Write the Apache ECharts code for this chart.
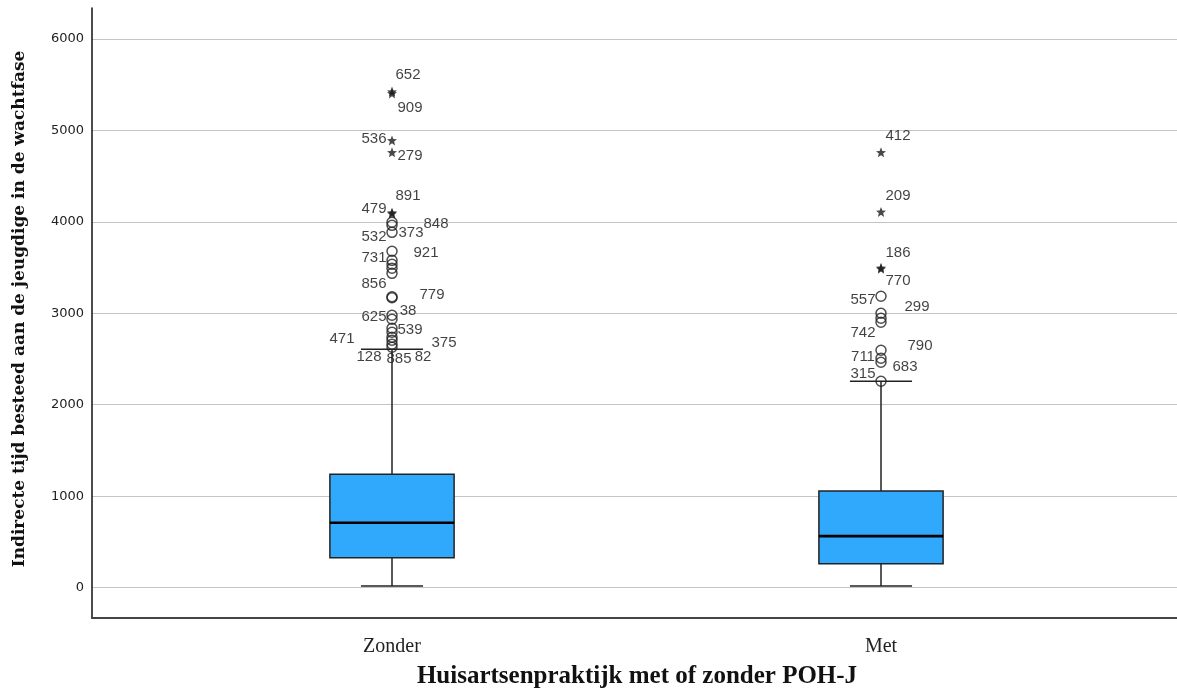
<!DOCTYPE html>
<html>
<head>
<meta charset="utf-8">
<script src="https://cdn.jsdelivr.net/npm/echarts@6/dist/echarts.min.js"></script>
<style>
html,body{margin:0;padding:0;background:#fff;}
#chart{width:1177px;height:695px;}
</style>
</head>
<body>
<div id="chart"></div>
<script>
// ---------- data ----------
const categories = ['Zonder', 'Met'];
// [lower whisker, Q1, median, Q3, upper whisker]
const boxStats = [
  [16, 326, 708, 1240, 2607],
  [16, 260, 563, 1055, 2257]
];
const yTicks = [0, 1000, 2000, 3000, 4000, 5000, 6000];

// extreme outliers (stars)
const zonderExtremes   = [5425, 5405, 4891, 4760, 4100, 4090];
const zonderExtremeIds = ['652', '909', '536', '279', '891', '479'];
const metExtremes      = [4760, 4109, 3497, 3487];
const metExtremeIds    = ['412', '209', '186', '770'];

// outliers (circles)
const zonderOutliers   = [3995, 3962, 3885, 3678, 3579, 3536, 3492, 3437, 3180, 3170,
                          2978, 2934, 2836, 2792, 2738, 2705, 2661, 2628];
const zonderOutlierIds = ['848', '532', '373', '921', '731', '', '', '', '856', '779',
                          '625', '38', '539', '471', '375', '128', '885', '82'];
const metOutliers      = [3186, 3000, 2945, 2902, 2596, 2508, 2464, 2257];
const metOutlierIds    = ['557', '299', '742', '', '790', '711', '683', '315'];

// ---------- label placement (pixel offsets of case labels) ----------
const zonderExtremeLabelOffsets = [[16,-17],[18,14],[-18,-2],[18,3],[16,-17],[-18,-5]];
const metExtremeLabelOffsets    = [[17,-17],[17,-16],[17,-15],[17,12]];
const zonderOutlierLabelOffsets = [[44,2],[-18,12],[19,0],[34,2],[-18,-2],[0,0],[0,0],[0,0],[-18,-13],[40,-3],
                                   [-18,2],[16,-8],[18,2],[-50,7],[52,6],[-23,17],[7,15],[31,10]];
const metOutlierLabelOffsets    = [[-18,4],[36,-6],[-18,15],[0,0],[39,-4],[-18,-1],[24,5],[-18,-7]];

// ---------- chart ----------
const yMin = -333, yMax = 6339;
const starPath = 'path://M0,-10 L2.6,-3.4 9.5,-3.1 4.1,1.2 5.9,8.1 0,4.2 -5.9,8.1 -4.1,1.2 -9.5,-3.1 -2.6,-3.4 Z';
const labelFont = { fontFamily: 'Liberation Sans', fontSize: 15, color: '#111' };

function pts(values, ids, offsets, catIndex) {
  return values.map((v, i) => ({
    value: [catIndex, v],
    label: { show: ids[i] !== '', formatter: ids[i], offset: offsets[i] }
  }));
}

function scatterSeries(data, isStar) {
  return {
    type: 'scatter',
    xAxisIndex: 1, yAxisIndex: 1,
    data: data,
    symbol: isStar ? starPath : 'circle',
    symbolSize: 10,
    itemStyle: isStar
      ? { color: '#1a1a1a', borderWidth: 0 }
      : { color: 'rgba(0,0,0,0)', borderColor: '#222', borderWidth: 1.5 },
    label: Object.assign({ position: 'inside', align: 'center', verticalAlign: 'middle' }, labelFont),
    emphasis: { disabled: true },
    z: 5
  };
}

const chart = echarts.init(document.getElementById('chart'), null, { renderer: 'canvas' });

const option = {
  animation: false,
  backgroundColor: '#fff',
  grid: [
    { left: 92, right: 0, top: 8, bottom: 77 },
    { left: 147.5, right: 51.5, top: 8, bottom: 77 }
  ],
  xAxis: [
    { gridIndex: 0, type: 'value', min: 0, max: 1,
      axisLine: { show: true, onZero: false, lineStyle: { color: '#444', width: 2 } },
      axisTick: { show: false }, axisLabel: { show: false }, splitLine: { show: false } },
    { gridIndex: 1, type: 'category', data: categories,
      axisLine: { show: false }, axisTick: { show: false }, splitLine: { show: false },
      axisLabel: { fontFamily: 'Liberation Serif', fontSize: 20, color: '#222', margin: 19 } }
  ],
  yAxis: [
    { gridIndex: 0, type: 'value', min: yMin, max: yMax,
      axisLine: { show: true, onZero: false, lineStyle: { color: '#111', width: 1.5 } },
      axisTick: { show: false, customValues: yTicks },
      axisLabel: { customValues: yTicks, formatter: v => String(v),
                   fontFamily: 'DejaVu Sans', fontSize: 13, color: '#222', margin: 8 },
      splitLine: { show: true, lineStyle: { color: '#c4c4c4', width: 1.2 } } },
    { gridIndex: 1, type: 'value', min: yMin, max: yMax, show: false }
  ],
  graphic: [
    { type: 'text', x: 20, y: 309, rotation: Math.PI / 2,
      style: { text: 'Indirecte tijd besteed aan de jeugdige in de wachtfase',
               font: 'bold 17px "DejaVu Serif"', fill: '#111', align: 'center', verticalAlign: 'middle' } },
    { type: 'text', x: 637, y: 677,
      style: { text: 'Huisartsenpraktijk met of zonder POH-J',
               font: 'bold 25px "Liberation Serif"', fill: '#111', align: 'center', verticalAlign: 'middle' } }
  ],
  series: [
    {
      type: 'custom',
      xAxisIndex: 1, yAxisIndex: 1,
      data: boxStats.map((s, i) => [i].concat(s)),
      encode: { x: 0, y: [1, 2, 3, 4, 5] },
      renderItem: function (params, api) {
        const c = api.value(0);
        const pLow = api.coord([c, api.value(1)]);
        const pQ1 = api.coord([c, api.value(2)]);
        const pMed = api.coord([c, api.value(3)]);
        const pQ3 = api.coord([c, api.value(4)]);
        const pHigh = api.coord([c, api.value(5)]);
        const band = api.size([1, 0])[0];
        const bw = band * 0.254;
        const cw = bw / 2;
        const x = pQ1[0];
        const lineStyle = { stroke: '#222', lineWidth: 1.5 };
        return {
          type: 'group',
          children: [
            { type: 'line', shape: { x1: x, y1: pQ3[1], x2: x, y2: pHigh[1] }, style: lineStyle },
            { type: 'line', shape: { x1: x, y1: pQ1[1], x2: x, y2: pLow[1] }, style: lineStyle },
            { type: 'line', shape: { x1: x - cw / 2, y1: pHigh[1], x2: x + cw / 2, y2: pHigh[1] }, style: lineStyle },
            { type: 'line', shape: { x1: x - cw / 2, y1: pLow[1], x2: x + cw / 2, y2: pLow[1] }, style: lineStyle },
            { type: 'rect', shape: { x: x - bw / 2, y: pQ3[1], width: bw, height: pQ1[1] - pQ3[1] },
              style: { fill: '#30a9fd', stroke: '#222', lineWidth: 1.5 } },
            { type: 'line', shape: { x1: x - bw / 2, y1: pMed[1], x2: x + bw / 2, y2: pMed[1] },
              style: { stroke: '#000', lineWidth: 2.6 } }
          ]
        };
      },
      z: 3
    },
    scatterSeries(pts(zonderOutliers, zonderOutlierIds, zonderOutlierLabelOffsets, 0), false),
    scatterSeries(pts(metOutliers, metOutlierIds, metOutlierLabelOffsets, 1), false),
    scatterSeries(pts(zonderExtremes, zonderExtremeIds, zonderExtremeLabelOffsets, 0), true),
    scatterSeries(pts(metExtremes, metExtremeIds, metExtremeLabelOffsets, 1), true)
  ]
};
chart.setOption(option);
</script>
</body>
</html>
